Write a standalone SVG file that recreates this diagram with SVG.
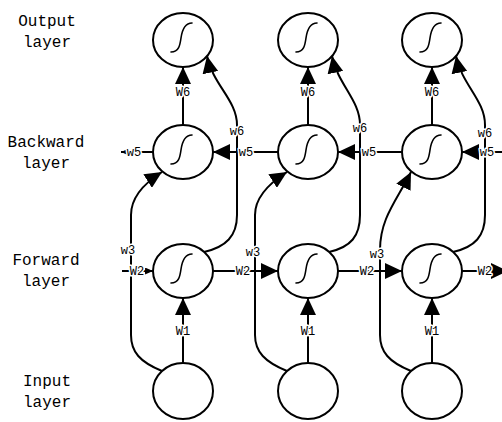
<svg xmlns="http://www.w3.org/2000/svg" width="502" height="422" viewBox="0 0 502 422">
  <style>
    .node ellipse { fill: #fff; stroke: #000; stroke-width: 2; }
    .sig { fill: none; stroke: #000; stroke-width: 1.6; stroke-linecap: round; }
    .edge { fill: none; stroke: #000; stroke-width: 2; }
    .lbl { font-family: "Liberation Mono", "DejaVu Sans Mono", monospace; font-size: 12px; text-anchor: middle; fill: #000; paint-order: stroke; stroke: #fff; stroke-width: 3px; stroke-linejoin: round; }
    .layer { font-family: "Liberation Mono", "DejaVu Sans Mono", monospace; font-size: 16px; text-anchor: middle; fill: #000; }
  </style>
  <defs>
    <marker id="arr" markerUnits="userSpaceOnUse" markerWidth="17" markerHeight="16" viewBox="0 0 17 16" refX="17" refY="8" orient="auto">
      <path d="M0,0 L17,8 L0,16 Z" fill="#000"/>
    </marker>
    <marker id="arrS" markerUnits="userSpaceOnUse" markerWidth="8" markerHeight="7" viewBox="0 0 8 7" refX="8" refY="3.5" orient="auto">
      <path d="M0,0 L8,3.5 L0,7 Z" fill="#000"/>
    </marker>
    <!-- integral-shaped activation glyph, centred on the node -->
    <path id="sigmoid" class="sig" d="M-12,12 C-4,12 -3,5 -2,-2 C-1,-9 1,-17 9,-17"/>
  </defs>

  <rect width="502" height="422" fill="#fff"/>

  <!-- layer titles -->
  <g id="titles">
    <text class="layer" x="47" y="26">Output</text>
    <text class="layer" x="47" y="47">layer</text>
    <text class="layer" x="46" y="147">Backward</text>
    <text class="layer" x="46" y="168">layer</text>
    <text class="layer" x="46" y="265">Forward</text>
    <text class="layer" x="46" y="286">layer</text>
    <text class="layer" x="47" y="386">Input</text>
    <text class="layer" x="47" y="407">layer</text>
  </g>

  <!-- nodes: three time steps, four layers each -->
  <g id="out1" class="node"><ellipse cx="183" cy="40" rx="30" ry="27"/><use href="#sigmoid" x="183" y="40"/></g>
  <g id="out2" class="node"><ellipse cx="308" cy="40" rx="30" ry="27"/><use href="#sigmoid" x="308" y="40"/></g>
  <g id="out3" class="node"><ellipse cx="432" cy="40" rx="30" ry="27"/><use href="#sigmoid" x="432" y="40"/></g>

  <g id="bwd1" class="node"><ellipse cx="183" cy="152" rx="30" ry="27"/><use href="#sigmoid" x="183" y="152"/></g>
  <g id="bwd2" class="node"><ellipse cx="308" cy="152" rx="30" ry="27"/><use href="#sigmoid" x="308" y="152"/></g>
  <g id="bwd3" class="node"><ellipse cx="432" cy="152" rx="30" ry="27"/><use href="#sigmoid" x="432" y="152"/></g>

  <g id="fwd1" class="node"><ellipse cx="183" cy="271" rx="30" ry="27"/><use href="#sigmoid" x="183" y="271"/></g>
  <g id="fwd2" class="node"><ellipse cx="308" cy="271" rx="30" ry="27"/><use href="#sigmoid" x="308" y="271"/></g>
  <g id="fwd3" class="node"><ellipse cx="432" cy="271" rx="30" ry="27"/><use href="#sigmoid" x="432" y="271"/></g>

  <g id="in1" class="node"><ellipse cx="183" cy="391" rx="30" ry="28"/></g>
  <g id="in2" class="node"><ellipse cx="308" cy="391" rx="30" ry="28"/></g>
  <g id="in3" class="node"><ellipse cx="432" cy="391" rx="30" ry="28"/></g>

  <!-- connectors -->
  <g id="connectors">
    <!-- input -> forward (W1) -->
    <path class="edge" d="M183,363 L183,298" marker-end="url(#arr)"/>
    <path class="edge" d="M308,363 L308,298" marker-end="url(#arr)"/>
    <path class="edge" d="M432,363 L432,298" marker-end="url(#arr)"/>
    <!-- backward -> output (W6) -->
    <path class="edge" d="M183,125 L183,67" marker-end="url(#arr)"/>
    <path class="edge" d="M308,125 L308,67" marker-end="url(#arr)"/>
    <path class="edge" d="M432,125 L432,67" marker-end="url(#arr)"/>
    <!-- input -> backward (w3) -->
    <path class="edge" d="M162,371 C140,362 131,352 131,335 L131,215 C131,198 143,184 162,172" marker-end="url(#arr)"/>
    <path class="edge" d="M287,371 C265,362 255,352 255,335 L255,215 C255,198 268,184 287,172" marker-end="url(#arr)"/>
    <path class="edge" d="M411,371 C389,362 380,352 380,335 L380,250 C380,218 397,200 411,172" marker-end="url(#arr)"/>
    <!-- forward -> output (w6) -->
    <path class="edge" d="M204,252 C226,247 237,236 237,215 L237,125 C237,100 213,85 207,56" marker-end="url(#arr)"/>
    <path class="edge" d="M329,252 C351,247 360,236 360,215 L360,125 C360,100 338,85 332,56" marker-end="url(#arr)"/>
    <path class="edge" d="M453,252 C475,247 485,236 485,215 L485,125 C485,100 462,85 456,56" marker-end="url(#arr)"/>
    <!-- forward recurrence (W2) -->
    <path class="edge" d="M122,271 L153,271" marker-end="url(#arrS)"/>
    <path class="edge" d="M213,271 L278,271" marker-end="url(#arr)"/>
    <path class="edge" d="M338,271 L402,271" marker-end="url(#arr)"/>
    <path class="edge" d="M462,271 L508,271" marker-end="url(#arr)"/>
    <!-- backward recurrence (w5) -->
    <path class="edge" d="M153,152 L121,152" marker-end="url(#arrS)"/>
    <path class="edge" d="M278,152 L213,152" marker-end="url(#arr)"/>
    <path class="edge" d="M402,152 L338,152" marker-end="url(#arr)"/>
    <path class="edge" d="M502,152 L462,152" marker-end="url(#arr)"/>

    <!-- weight labels -->
    <text class="lbl" x="183" y="335">W1</text>
    <text class="lbl" x="308" y="335">W1</text>
    <text class="lbl" x="432" y="335">W1</text>
    <text class="lbl" x="183" y="96">W6</text>
    <text class="lbl" x="308" y="96">W6</text>
    <text class="lbl" x="432" y="96">W6</text>
    <text class="lbl" x="128" y="254">w3</text>
    <text class="lbl" x="253" y="256">w3</text>
    <text class="lbl" x="377" y="258">w3</text>
    <text class="lbl" x="237" y="135">w6</text>
    <text class="lbl" x="360" y="132">w6</text>
    <text class="lbl" x="485" y="137">w6</text>
    <text class="lbl" x="137" y="275">W2</text>
    <text class="lbl" x="243" y="275">W2</text>
    <text class="lbl" x="367" y="275">W2</text>
    <text class="lbl" x="485" y="275">W2</text>
    <text class="lbl" x="134" y="156">w5</text>
    <text class="lbl" x="246" y="156">w5</text>
    <text class="lbl" x="369" y="156">w5</text>
    <text class="lbl" x="487" y="156">w5</text>
  </g>
</svg>
